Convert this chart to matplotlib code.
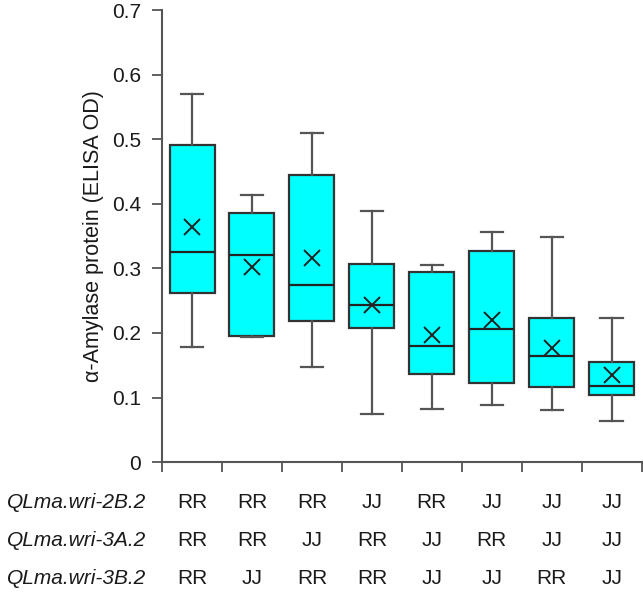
import matplotlib
matplotlib.use("Agg")
import matplotlib.pyplot as plt
import matplotlib.transforms as mtransforms
import numpy as np

plt.rcParams['font.family'] = ['Liberation Sans', 'DejaVu Sans']

# box statistics (one entry per genotype group)
whisker_low = [0.178, 0.194, 0.147, 0.074, 0.083, 0.089, 0.080, 0.063]
q1 = [0.262, 0.196, 0.219, 0.207, 0.137, 0.123, 0.117, 0.104]
median = [0.325, 0.321, 0.274, 0.243, 0.180, 0.206, 0.165, 0.118]
q3 = [0.491, 0.386, 0.445, 0.307, 0.294, 0.327, 0.223, 0.155]
whisker_high = [0.570, 0.414, 0.509, 0.389, 0.305, 0.356, 0.349, 0.223]
means = [0.364, 0.302, 0.316, 0.243, 0.197, 0.220, 0.177, 0.135]

qtl_names = ["QLma.wri-2B.2", "QLma.wri-3A.2", "QLma.wri-3B.2"]
genotypes = [
    ["RR", "RR", "RR", "JJ", "RR", "JJ", "JJ", "JJ"],
    ["RR", "RR", "JJ", "RR", "JJ", "RR", "JJ", "JJ"],
    ["RR", "JJ", "RR", "RR", "JJ", "JJ", "RR", "JJ"],
]

stats = []
for i in range(len(median)):
    stats.append(dict(whislo=whisker_low[i], q1=q1[i], med=median[i],
                      q3=q3[i], whishi=whisker_high[i], mean=means[i], fliers=[]))

fig = plt.figure(figsize=(6.43, 5.94), dpi=100)
ax = fig.add_axes([0.252, 0.222, 0.746, 0.761])

pos = np.arange(1, len(median) + 1)
ax.bxp(stats, positions=pos, widths=0.75, patch_artist=True, showmeans=True,
       boxprops=dict(facecolor='#00FFFF', edgecolor='#333333', linewidth=1.6),
       medianprops=dict(color='#222222', linewidth=1.6),
       whiskerprops=dict(color='#555555', linewidth=1.6),
       capprops=dict(color='#555555', linewidth=1.6),
       meanprops=dict(marker='x', markeredgecolor='#222222', markersize=12,
                      markeredgewidth=1.4))

ax.set_xlim(0.5, len(median) + 0.5)
ax.set_ylim(0, 0.7)
ax.set_yticks(np.arange(0, 0.71, 0.1))
ax.set_yticklabels(['0', '0.1', '0.2', '0.3', '0.4', '0.5', '0.6', '0.7'])
ax.set_xticks(np.arange(0.5, len(median) + 1, 1))
ax.set_xticklabels([])
ax.tick_params(axis='both', direction='out', length=7, width=1.3, color='#555555',
               labelsize=15, labelcolor='#1a1a1a')
ax.tick_params(axis='y', pad=8)
for s in ['top', 'right']:
    ax.spines[s].set_visible(False)
for s in ['left', 'bottom']:
    ax.spines[s].set_color('#555555')
    ax.spines[s].set_linewidth(1.5)

fig.text(94 / 643, 1 - 236 / 594, "\u03b1-Amylase protein (ELISA OD)", fontsize=15.5,
         rotation=90, ha='center', va='center', color='#1a1a1a')

# genotype table below the axis
trans = mtransforms.blended_transform_factory(ax.transData, fig.transFigure)
row_y = [1 - 502 / 594, 1 - 540 / 594, 1 - 579 / 594]
for r, name in enumerate(qtl_names):
    fig.text(146 / 643, row_y[r], name, style='italic', fontsize=15,
             ha='right', va='center', color='#1a1a1a')
    for i, g in enumerate(genotypes[r]):
        ax.text(pos[i], row_y[r], g, transform=trans, fontsize=15,
                ha='center', va='center', color='#1a1a1a')

fig.savefig("out.png", dpi=100)
